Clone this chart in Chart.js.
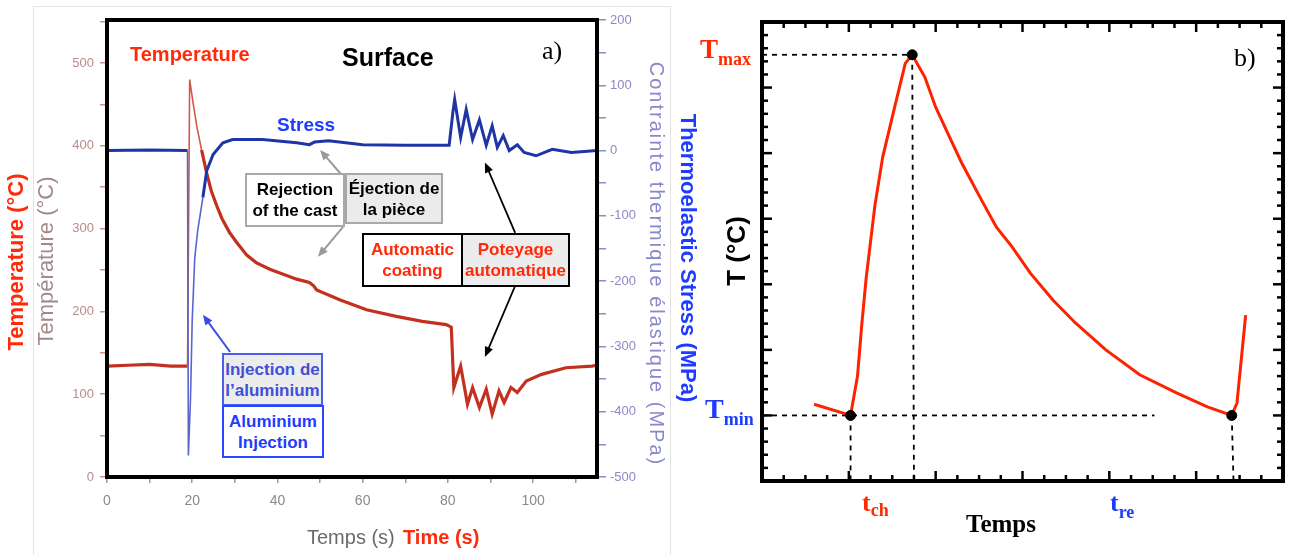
<!DOCTYPE html>
<html>
<head>
<meta charset="utf-8">
<script src="https://cdn.jsdelivr.net/npm/chart.js@4.4.1/dist/chart.umd.min.js"></script>
<style>
  body { margin: 0; width: 1298px; height: 555px; position: relative; overflow: hidden; background: #fff; font-family: "Liberation Sans", Arial, sans-serif; }
  canvas { position: absolute; top: 0; }
  #frameA { position: absolute; left: 33px; top: 6px; width: 636px; height: 560px; border: 1px solid #e4e4e4; }
  .txt { position: absolute; white-space: nowrap; line-height: 1; }
  .rot { position: absolute; white-space: nowrap; line-height: 1; transform: translate(-50%, -50%) rotate(-90deg); }
  .rotr { position: absolute; white-space: nowrap; line-height: 1; transform: translate(-50%, -50%) rotate(90deg); }
  .box { position: absolute; box-sizing: border-box; display: flex; align-items: center; justify-content: center; text-align: center; font-weight: bold; font-size: 17px; line-height: 21px; }
  .serif { font-family: "Liberation Serif", "Times New Roman", serif; font-weight: bold; }
</style>
</head>
<body>
<div id="frameA"></div>
<canvas id="chartA" width="700" height="555" style="left:0"></canvas>
<canvas id="chartB" width="598" height="555" style="left:700px"></canvas>

<!-- panel a) texts -->
<div class="rot" style="left:16px;top:262px;font-size:22px;font-weight:bold;color:#ff2a0a">Temperature (°C)</div>
<div class="rot" style="left:46px;top:261px;font-size:22px;color:#a38a8a">Température (°C)</div>
<div class="rotr" style="left:657px;top:264px;font-size:20px;letter-spacing:2px;color:#8888cc">Contrainte thermique élastique (MPa)</div>
<div class="rotr" style="left:688px;top:258px;font-size:22px;font-weight:bold;color:#1d3cff">Thermoelastic Stress (MPa)</div>
<div class="txt" style="left:307px;top:527px;font-size:20px;color:#6a6a6a">Temps (s)</div>
<div class="txt" style="left:403px;top:527px;font-size:20px;font-weight:bold;color:#ff2a0a">Time (s)</div>

<div class="txt" style="left:130px;top:44px;font-size:20px;font-weight:bold;color:#ff2a0a">Temperature</div>
<div class="txt" style="left:342px;top:45px;font-size:25px;font-weight:bold;color:#000">Surface</div>
<div class="txt" style="left:542px;top:38px;font-size:26px;font-family:'Liberation Serif',serif;color:#000">a)</div>
<div class="txt" style="left:277px;top:115px;font-size:19px;font-weight:bold;color:#1d3cff">Stress</div>

<div class="box" style="left:245px;top:173px;width:100px;height:54px;border:2px solid #a8a8a8;background:#fff;color:#000">Rejection<br>of the cast</div>
<div class="box" style="left:345px;top:173px;width:98px;height:51px;border:2px solid #a8a8a8;background:#ebebeb;color:#000">Éjection de<br>la pièce</div>
<div class="box" style="left:362px;top:233px;width:101px;height:54px;border:2px solid #000;background:#fff;color:#ff2a0a">Automatic<br>coating</div>
<div class="box" style="left:461px;top:233px;width:109px;height:54px;border:2px solid #000;background:#ececec;color:#ff2a0a">Poteyage<br>automatique</div>
<div class="box" style="left:222px;top:353px;width:101px;height:53px;border:2px solid #4a5ee8;background:#ececec;color:#4050d8">Injection de<br>l’aluminium</div>
<div class="box" style="left:222px;top:405px;width:102px;height:53px;border:2px solid #2a46ff;background:#fff;color:#1e3cff">Aluminium<br>Injection</div>

<!-- panel b) texts -->
<div class="rot" style="left:736px;top:251px;font-size:26px;font-weight:bold;color:#000">T (°C)</div>
<div class="txt serif" style="left:700px;top:36px;color:#ff2a00"><span style="font-size:27px">T</span><span style="font-size:18px;position:relative;top:7px">max</span></div>
<div class="txt serif" style="left:705px;top:395px;color:#1a3cff"><span style="font-size:28px">T</span><span style="font-size:18px;position:relative;top:7px">min</span></div>
<div class="txt serif" style="left:862px;top:490px;color:#ff2a00"><span style="font-size:26px">t</span><span style="font-size:18px;position:relative;top:5px">ch</span></div>
<div class="txt serif" style="left:1110px;top:490px;color:#1a3cff"><span style="font-size:26px">t</span><span style="font-size:18px;position:relative;top:7px">re</span></div>
<div class="txt serif" style="left:966px;top:511px;font-size:25px;color:#000">Temps</div>
<div class="txt" style="left:1234px;top:45px;font-size:26px;font-family:'Liberation Serif',serif;color:#000">b)</div>

<script>
// ---- panel a) : measured surface temperature and stress ----
const tempTime = [0, 5, 10, 15, 18.9, 19.4, 20.2, 21.1, 22.2, 23.4, 24.5, 25.8, 27, 28.8, 30.5, 32.8, 35, 38.2, 44.5, 47.5, 48.5, 49.2, 54.6, 60.9, 67.9, 74, 79.6, 80.8, 81.4, 83, 84.6, 85.8, 87.4, 89, 90.4, 92, 93.2, 94.8, 96.3, 98.4, 102, 107.7, 113.8, 115];
const tempValues = [134, 135, 136, 134, 134, 480, 452, 423, 395, 367, 345, 327, 312, 295, 283, 268, 259, 251, 239, 235, 231, 226, 214, 202, 194, 188, 184, 181, 108, 134, 88, 108, 84, 106, 76, 104, 90, 108, 102, 116, 124, 132, 134, 135];

const stressTime = [0, 10, 18.9, 19.1, 19.6, 20.0, 20.6, 21.3, 22.5, 23.4, 24.9, 27.2, 29.5, 36.5, 44.5, 47.5, 48.7, 52, 60, 70, 80.3, 81.2, 81.6, 83, 84.3, 85.8, 87.4, 89, 90.4, 91.6, 93, 94.4, 96.3, 97.9, 100.7, 104.5, 109, 115];
const stressValues = [0, 1, 0, -467, -380, -260, -164, -122, -72, -31, -6, 12, 17, 17, 12, 9, 13, 15, 9, 8, 8, 60, 78, 20, 63, 17, 47, 8, 38, 5, 23, 0, 9, -3, -8, 2, -3, 0];

const timeTicks = [0, 10, 20, 30, 40, 50, 60, 70, 80, 90, 100, 110];
const timeLabels = [0, 20, 40, 60, 80, 100];
const tempTicks = [0, 50, 100, 150, 200, 250, 300, 350, 400, 450, 500, 550];
const tempLabels = [0, 100, 200, 300, 400, 500];
const stressTicks = [-500, -450, -400, -350, -300, -250, -200, -150, -100, -50, 0, 50, 100, 150, 200];
const stressLabels = [-500, -400, -300, -200, -100, 0, 100, 200];

// ---- panel b) : schematic cycle ----
const cycleTime = [0.6, 1.02, 1.1, 1.15, 1.2, 1.3, 1.39, 1.52, 1.65, 1.73, 1.875, 2.0, 2.14, 2.3, 2.53, 2.7, 2.88, 3.09, 3.35, 3.61, 3.96, 4.35, 4.78, 5.13, 5.41, 5.47, 5.57];
const cycleTemp = [1.17, 1.0, 1.6, 2.4, 3.1, 4.2, 4.94, 5.66, 6.37, 6.5, 6.16, 5.7, 5.3, 4.85, 4.28, 3.87, 3.57, 3.17, 2.76, 2.41, 2.0, 1.62, 1.34, 1.13, 1.0, 1.19, 2.53];
const keyTime = [1.02, 1.73, 5.41];   // t_ch, peak, t_re
const keyTemp = [1.0, 6.5, 1.0];      // T_min, T_max, T_min
const tminGuideEnd = 4.52;

const toXY = (xs, ys) => xs.map((x, i) => ({ x: x, y: ys[i] }));
const fixedTicks = list => s => { s.ticks = list.map(v => ({ value: v })); };

// arrows of panel a), in data units (time, temperature)
const arrowsA = [
  { from: [55.4, 363], to: [50.0, 395], color: '#9a9a9a', w: 2 },
  { from: [55.4, 302], to: [49.5, 266], color: '#9a9a9a', w: 2 },
  { from: [95.8, 295], to: [88.7, 380], color: '#000', w: 1.8 },
  { from: [95.8, 231], to: [88.7, 145], color: '#000', w: 1.8 },
  { from: [28.9, 151], to: [22.5, 196], color: '#3a4ee0', w: 2 }
];

function arrow(ctx, x1, y1, x2, y2, color, w) {
  const ang = Math.atan2(y2 - y1, x2 - x1);
  const head = 11;
  ctx.strokeStyle = color;
  ctx.fillStyle = color;
  ctx.lineWidth = w;
  ctx.beginPath();
  ctx.moveTo(x1, y1);
  ctx.lineTo(x2 - Math.cos(ang) * head * 0.8, y2 - Math.sin(ang) * head * 0.8);
  ctx.stroke();
  ctx.beginPath();
  ctx.moveTo(x2, y2);
  ctx.lineTo(x2 - head * Math.cos(ang - 0.4), y2 - head * Math.sin(ang - 0.4));
  ctx.lineTo(x2 - head * Math.cos(ang + 0.4), y2 - head * Math.sin(ang + 0.4));
  ctx.closePath();
  ctx.fill();
}

const panelA = {
  id: 'panelA',
  afterDatasetsDraw(chart) {
    const { ctx, chartArea: a, scales } = chart;
    ctx.save();
    arrowsA.forEach(ar => {
      arrow(ctx,
        scales.x.getPixelForValue(ar.from[0]), scales.y.getPixelForValue(ar.from[1]),
        scales.x.getPixelForValue(ar.to[0]), scales.y.getPixelForValue(ar.to[1]),
        ar.color, ar.w);
    });
    ctx.strokeStyle = '#000';
    ctx.lineWidth = 4;
    ctx.strokeRect(a.left, a.top, a.right - a.left, a.bottom - a.top);
    ctx.restore();
  }
};

const steep = (c, a, b) => {
  const x = c.p0.parsed.x;
  return x > 18.5 && x < 21.5 ? a : b;
};

new Chart(document.getElementById('chartA'), {
  type: 'line',
  data: {
    datasets: [
      {
        label: 'Stress',
        data: toXY(stressTime, stressValues),
        yAxisID: 'y2',
        borderColor: '#2035a5',
        borderWidth: 3,
        pointRadius: 0,
        tension: 0,
        segment: {
          borderColor: c => steep(c, '#5a66cc', '#2035a5'),
          borderWidth: c => steep(c, 1.6, 3)
        }
      },
      {
        label: 'Temperature',
        data: toXY(tempTime, tempValues),
        yAxisID: 'y',
        borderColor: '#c4301f',
        borderWidth: 3.2,
        pointRadius: 0,
        tension: 0,
        segment: {
          borderColor: c => steep(c, '#cf5a4a', '#c4301f'),
          borderWidth: c => steep(c, 1.6, 3.2)
        }
      }
    ]
  },
  options: {
    responsive: false,
    animation: false,
    layout: { padding: { top: 20, left: 0, right: 0, bottom: 0 } },
    plugins: { legend: { display: false }, tooltip: { enabled: false } },
    scales: {
      x: {
        type: 'linear', min: 0, max: 115,
        border: { display: false },
        grid: { drawOnChartArea: false, tickLength: 6, color: '#9a9a9a', lineWidth: 1.5 },
        ticks: { padding: 10, color: '#8a8a8a', font: { size: 14 }, maxRotation: 0, autoSkip: false,
                 callback: v => timeLabels.includes(v) ? String(v) : '' },
        afterBuildTicks: fixedTicks(timeTicks),
        afterFit: s => { s.height = 78; }
      },
      y: {
        type: 'linear', position: 'left', min: 0, max: 552,
        border: { display: false },
        grid: { drawOnChartArea: false, tickLength: 7, color: '#cc9090', lineWidth: 1.5 },
        ticks: { padding: 6, color: '#b88a8a', font: { size: 13 }, autoSkip: false,
                 callback: v => tempLabels.includes(v) ? String(v) : '' },
        afterBuildTicks: fixedTicks(tempTicks),
        afterFit: s => { s.width = 107; }
      },
      y2: {
        type: 'linear', position: 'right', min: -500, max: 200,
        border: { display: false },
        grid: { drawOnChartArea: false, tickLength: 9, color: '#8c8ccc', lineWidth: 1.5 },
        ticks: { padding: 4, color: '#8a8ac4', font: { size: 13 }, autoSkip: false,
                 callback: v => stressLabels.includes(v) ? String(v) : '' },
        afterBuildTicks: fixedTicks(stressTicks),
        afterFit: s => { s.width = 103; }
      }
    }
  },
  plugins: [panelA]
});

// ---- panel b) ----
const boxTicks = {
  id: 'boxTicks',
  afterDraw(chart) {
    const { ctx, chartArea: a, scales: { x, y } } = chart;
    ctx.save();
    ctx.strokeStyle = '#000';
    ctx.lineWidth = 2.5;
    const seg = (x1, y1, x2, y2) => { ctx.beginPath(); ctx.moveTo(x1, y1); ctx.lineTo(x2, y2); ctx.stroke(); };
    for (let i = 0; i <= 24; i++) {
      const px = x.getPixelForValue(i / 4);
      const len = i % 4 === 0 ? 10 : 6;
      seg(px, a.bottom, px, a.bottom - len);
      seg(px, a.top, px, a.top + len);
    }
    for (let i = 0; i <= 35; i++) {
      const py = y.getPixelForValue(i / 5);
      const len = i % 5 === 0 ? 10 : 6;
      seg(a.left, py, a.left + len, py);
      seg(a.right, py, a.right - len, py);
    }
    ctx.lineWidth = 4;
    ctx.strokeRect(a.left, a.top, a.right - a.left, a.bottom - a.top);
    ctx.restore();
  }
};

const dashed = pts => ({
  data: pts,
  borderColor: '#000',
  borderWidth: 1.8,
  borderDash: [5, 5],
  pointRadius: 0,
  tension: 0
});

new Chart(document.getElementById('chartB'), {
  type: 'line',
  data: {
    datasets: [
      {
        data: toXY(keyTime, keyTemp),
        showLine: false,
        pointRadius: 5,
        pointBackgroundColor: '#000',
        pointBorderColor: '#000'
      },
      {
        data: toXY(cycleTime, cycleTemp),
        borderColor: '#ff2200',
        borderWidth: 3,
        pointRadius: 0,
        tension: 0
      },
      dashed([{ x: 0, y: keyTemp[1] }, { x: keyTime[1], y: keyTemp[1] }]),
      dashed([{ x: keyTime[1], y: keyTemp[1] }, { x: keyTime[1] + 0.02, y: 0 }]),
      dashed([{ x: 0, y: keyTemp[0] }, { x: tminGuideEnd, y: keyTemp[0] }]),
      dashed([{ x: keyTime[0], y: keyTemp[0] }, { x: keyTime[0], y: 0 }]),
      dashed([{ x: keyTime[2], y: keyTemp[2] }, { x: keyTime[2] + 0.02, y: 0 }])
    ]
  },
  options: {
    responsive: false,
    animation: false,
    layout: { padding: { left: 62, right: 15, top: 22, bottom: 74 } },
    plugins: { legend: { display: false }, tooltip: { enabled: false } },
    scales: {
      x: { type: 'linear', min: 0, max: 6, display: false },
      y: { type: 'linear', min: 0, max: 7, display: false }
    }
  },
  plugins: [boxTicks]
});
</script>
</body>
</html>
